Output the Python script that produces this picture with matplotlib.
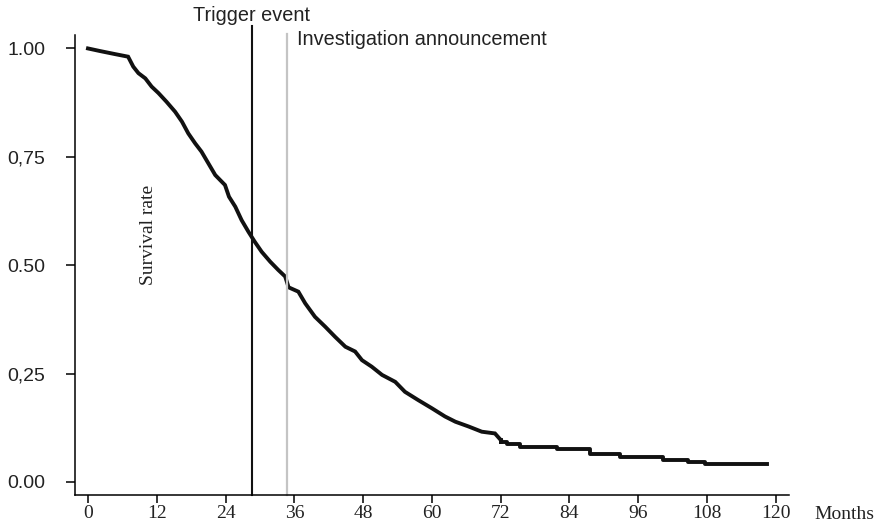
import numpy as np
import matplotlib.pyplot as plt

# Krzywa przeżycia - część gęsta, kroki bardzo drobne
months = [0, 2.1, 4.7, 7.0, 7.9, 8.8, 10.0, 11.1, 12.3, 13.7, 15.2, 16.4, 17.5,
          18.7, 19.8, 21.0, 22.2, 23.9, 24.6, 25.7, 26.8, 28.0, 29.1, 30.3, 31.8,
          33.2, 34.4, 35.0, 36.7, 37.9, 39.6, 41.4, 43.1, 44.9, 46.6, 47.8, 49.5,
          51.3, 53.6, 55.3, 57.6, 60.0, 62.3, 64.1, 66.4, 68.7, 71.0, 72.0]
survival = [1.000, 0.994, 0.987, 0.981, 0.958, 0.943, 0.931, 0.912, 0.897, 0.877,
            0.854, 0.831, 0.804, 0.781, 0.762, 0.735, 0.708, 0.685, 0.658, 0.635,
            0.604, 0.577, 0.554, 0.531, 0.508, 0.489, 0.474, 0.449, 0.439, 0.412,
            0.381, 0.358, 0.335, 0.312, 0.301, 0.281, 0.266, 0.247, 0.231, 0.208,
            0.189, 0.170, 0.151, 0.139, 0.128, 0.116, 0.112, 0.097]

# Ogon krzywej - wyraźne schodki
tail_months = [72.0, 73.1, 75.4, 81.8, 87.5, 92.8, 100.3, 104.7, 107.7, 118.5]
tail_survival = [0.092, 0.088, 0.081, 0.077, 0.065, 0.058, 0.051, 0.046, 0.042, 0.042]

trigger_month = 28.6
announcement_month = 34.7

x_ticks = [0, 12, 24, 36, 48, 60, 72, 84, 96, 108, 120]
y_ticks = [0.0, 0.25, 0.5, 0.75, 1.0]
y_tick_labels = ["0.00", "0,25", "0.50", "0,75", "1.00"]

fig = plt.figure(figsize=(8.8, 5.28), dpi=100)
ax = fig.add_axes([0.0852, 0.0625, 0.8114, 0.8712])

ax.plot(months, survival, color='#111111', lw=2.8, solid_joinstyle='miter')
ax.step(tail_months, tail_survival, where='post', color='#111111', lw=2.8)
ax.plot([months[-1], tail_months[0]], [survival[-1], tail_survival[0]], color='#111111', lw=2.8)

# Linie pionowe
ax.plot([trigger_month, trigger_month], [-0.03, 1.052], color='#111111', lw=1.5, clip_on=False)
ax.plot([announcement_month, announcement_month], [-0.03, 1.033], color='#c4c4c4', lw=1.6, clip_on=False)

ax.text(trigger_month, 1.077, "Trigger event", ha='center', va='center',
        fontsize=14.3, family='Liberation Sans', color='#222222')
ax.text(announcement_month + 1.8, 1.02, "Investigation announcement", ha='left', va='center',
        fontsize=14.3, family='Liberation Sans', color='#222222')
ax.text(10.5, 0.57, "Survival rate", rotation=90, ha='center', va='center',
        fontsize=14, family='Liberation Serif', color='#222222')
fig.text(0.925, 0.025, "Months", ha='left', va='center',
         fontsize=14, family='Liberation Serif', color='#222222')

ax.set_xlim(-2.27, 122.3)
ax.set_ylim(-0.03, 1.031)

ax.set_xticks(x_ticks)
ax.set_xticklabels([str(t) for t in x_ticks], family='Liberation Serif', fontsize=14, color='#222222')
ax.set_yticks(y_ticks)
ax.set_yticklabels(y_tick_labels, family='Liberation Sans', fontsize=14, color='#222222')

ax.tick_params(axis='y', length=6.5, width=1.1, pad=15)
ax.tick_params(axis='x', length=6, width=1.1, pad=1)

for s in ['top', 'right']:
    ax.spines[s].set_visible(False)
for s in ['left', 'bottom']:
    ax.spines[s].set_linewidth(1.1)

plt.savefig('out.png', dpi=100)
